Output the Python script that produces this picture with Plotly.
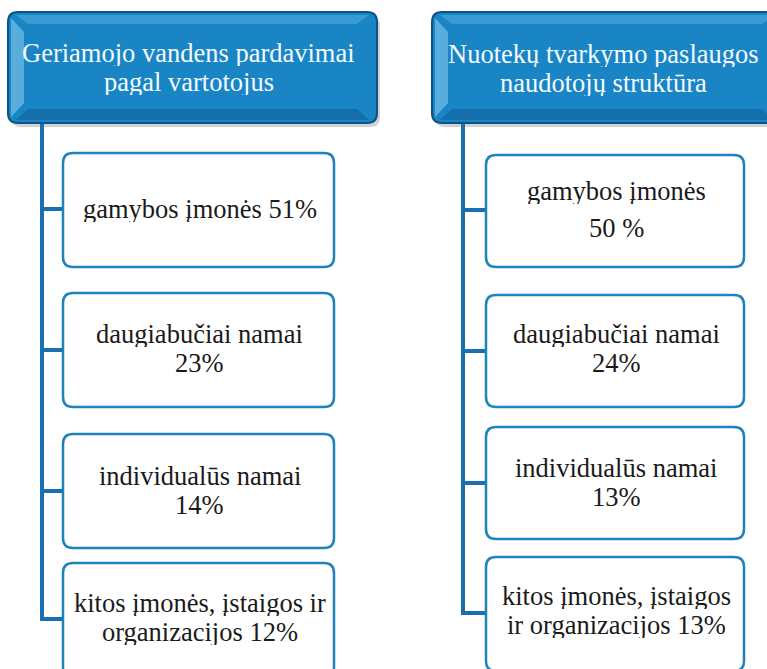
import plotly.graph_objects as go

# ---- data ----
headers = ["Geriamojo vandens pardavimai|pagal vartotojus",
           "Nuotekų tvarkymo paslaugos|naudotojų struktūra"]
left_labels = ["gamybos įmonės", "daugiabučiai namai", "individualūs namai",
               "kitos įmonės, įstaigos ir|organizacijos"]
left_values = ["51%", "23%", "14%", "12%"]
right_labels = ["gamybos įmonės", "daugiabučiai namai", "individualūs namai",
                "kitos įmonės, įstaigos|ir organizacijos"]
right_values = ["50 %", "24%", "13%", "13%"]

W, H = 767, 669
FONT = "Liberation Serif"
FS = 26.5
BORDER = "#1f82bd"
LINE = "#1a6fb0"

fig = go.Figure()
shapes = []
annotations = []


def rrect(x0, y0, x1, y1, r):
    return (f"M {x0+r},{y0} L {x1-r},{y0} Q {x1},{y0} {x1},{y0+r} "
            f"L {x1},{y1-r} Q {x1},{y1} {x1-r},{y1} L {x0+r},{y1} "
            f"Q {x0},{y1} {x0},{y1-r} L {x0},{y0+r} Q {x0},{y0} {x0+r},{y0} Z")


def add_lines(lines, cx, centers, color):
    for txt, cy in zip(lines, centers):
        annotations.append(dict(x=cx, y=cy, text=txt, showarrow=False,
                                font=dict(family=FONT, size=FS, color=color),
                                height=26, valign="middle",
                                xanchor="center", yanchor="middle"))


def column(header, hx0, hx1, head_centers, lx, bx0, bx1, tops, heights, cys,
           labels, values, value_newline, text_centers):
    hy0, hy1 = 12, 123
    shapes.append(dict(type="path", path=rrect(hx0 + 3, hy0 + 4, hx1 + 3, hy1 + 4, 10),
                       fillcolor="rgba(0,0,0,0.18)", line=dict(width=0), layer="below"))
    shapes.append(dict(type="path", path=rrect(hx0, hy0, hx1, hy1, 10),
                       fillcolor="#1a85c5", line=dict(color="#0c5385", width=2)))
    shapes.append(dict(type="path",
                       path=f"M {hx0+3},{hy0+6} L {hx0+16},{hy0+20} L {hx0+16},{hy1-20} L {hx0+3},{hy1-6} Z",
                       fillcolor="rgba(140,205,240,0.55)", line=dict(width=0)))
    shapes.append(dict(type="path",
                       path=f"M {hx0+8},{hy1-3} L {hx0+20},{hy1-14} L {hx1-20},{hy1-14} L {hx1-8},{hy1-3} Z",
                       fillcolor="rgba(10,70,120,0.35)", line=dict(width=0)))
    shapes.append(dict(type="path",
                       path=f"M {hx0+8},{hy0+3} L {hx0+20},{hy0+12} L {hx1-20},{hy0+12} L {hx1-8},{hy0+3} Z",
                       fillcolor="rgba(120,195,235,0.35)", line=dict(width=0)))
    add_lines(header.split("|"), (hx0 + hx1) / 2 - 4, head_centers, "#f4fbff")
    last_cy = cys[-1]
    shapes.append(dict(type="path",
                       path=f"M {lx},{hy1} L {lx},{last_cy} L {bx0},{last_cy}",
                       line=dict(color=LINE, width=4), layer="below"))
    for cy in cys[:-1]:
        shapes.append(dict(type="line", x0=lx, x1=bx0, y0=cy, y1=cy,
                           line=dict(color=LINE, width=4), layer="below"))
    for i, (t, h) in enumerate(zip(tops, heights)):
        shapes.append(dict(type="path", path=rrect(bx0, t, bx1, t + h, 10),
                           fillcolor="white", line=dict(color=BORDER, width=2.5)))
        parts = labels[i].split("|")
        if value_newline[i]:
            parts = parts + [values[i]]
        else:
            parts[-1] = parts[-1] + " " + values[i]
        add_lines(parts, (bx0 + bx1) / 2 + 1, text_centers[i], "#1a1a1a")


column(headers[0], 8, 377, [53, 82], 42, 63, 334,
       [153, 293, 434, 563], [114, 114, 114, 114], [209, 350, 491, 619],
       left_labels, left_values, [False, True, True, False],
       [[209], [334, 363], [476, 505], [603, 632]])
column(headers[1], 432, 782, [54, 83], 463, 486, 744,
       [155, 295, 427, 557], [112, 112, 112, 114], [210, 351, 483, 613],
       right_labels, right_values, [True, True, True, False],
       [[191, 228], [334, 363], [468, 497], [596, 625]])

fig.update_layout(
    width=W, height=H, margin=dict(l=0, r=0, t=0, b=0),
    paper_bgcolor="white", plot_bgcolor="white",
    xaxis=dict(range=[0, W], visible=False, fixedrange=True),
    yaxis=dict(range=[H, 0], visible=False, fixedrange=True),
    shapes=shapes, annotations=annotations, showlegend=False,
)
fig.write_html("out.html", config={"displayModeBar": False},
               post_script="document.body.style.margin='0';document.body.style.overflow='hidden';")
